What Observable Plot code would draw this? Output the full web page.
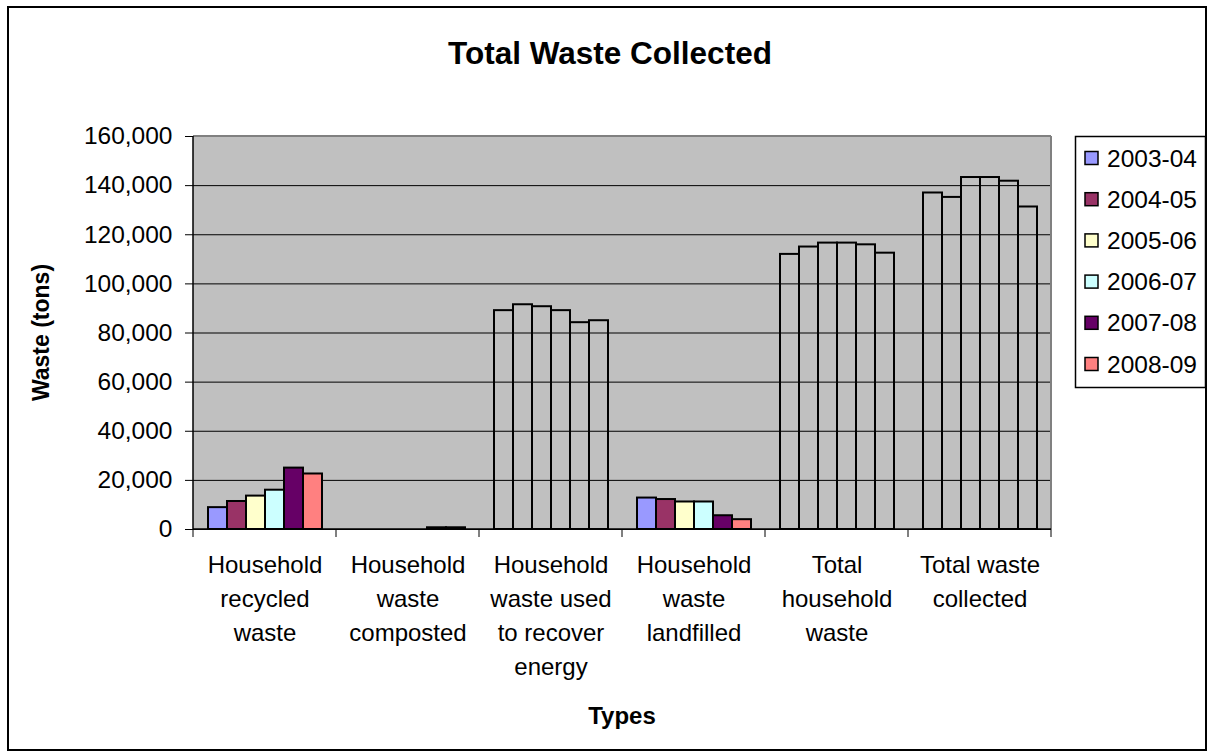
<!DOCTYPE html>
<html>
<head>
<meta charset="utf-8">
<script src="https://cdn.jsdelivr.net/npm/d3@7"></script>
<script src="https://cdn.jsdelivr.net/npm/@observablehq/plot@0.6"></script>
<style>
  html, body { margin: 0; padding: 0; background: white; }
  #chart { width: 1210px; height: 756px; }
</style>
</head>
<body>
<div id="chart"></div>
<script>
// ---- data ----
const categories = [
  "Household recycled waste",
  "Household waste composted",
  "Household waste used to recover energy",
  "Household waste landfilled",
  "Total household waste",
  "Total waste collected"
];
const categoryLabels = [
  "Household\nrecycled\nwaste",
  "Household\nwaste\ncomposted",
  "Household\nwaste used\nto recover\nenergy",
  "Household\nwaste\nlandfilled",
  "Total\nhousehold\nwaste",
  "Total waste\ncollected"
];
const years = ["2003-04", "2004-05", "2005-06", "2006-07", "2007-08", "2008-09"];
const v2003_04 = [8900, 0, 89100, 12800, 112000, 137000];
const v2004_05 = [11400, 0, 91500, 12200, 115000, 135200];
const v2005_06 = [13600, 0, 90700, 11200, 116600, 143300];
const v2006_07 = [16000, 0, 89100, 11200, 116600, 143300];
const v2007_08 = [25000, 700, 84200, 5600, 115900, 141800];
const v2008_09 = [22600, 700, 85000, 4000, 112500, 131300];
const yTicks = [0, 20000, 40000, 60000, 80000, 100000, 120000, 140000, 160000];
const outlinedCategories = ["Household waste used to recover energy", "Total household waste", "Total waste collected"];

const seriesValues = [v2003_04, v2004_05, v2005_06, v2006_07, v2007_08, v2008_09];
const rows = [];
years.forEach((yr, i) => categories.forEach((c, j) => {
  if (seriesValues[i][j] > 0) rows.push({category: c, year: yr, value: seriesValues[i][j]});
}));

const colors = ["#9999FF", "#993366", "#FFFFCC", "#CCFFFF", "#660066", "#FF8080"];
const FONT = "'Liberation Sans', Arial, sans-serif";

const chart = Plot.plot({
  width: 1210,
  height: 756,
  marginLeft: 191,
  marginRight: 158,
  marginTop: 136,
  marginBottom: 227,
  style: {background: "white", fontFamily: FONT, fontSize: "24px", color: "black"},
  fx: {domain: categories, padding: 0, label: null},
  x: {domain: years, paddingInner: 0, paddingOuter: 0.74, axis: null},
  y: {domain: [0, 160000], label: null},
  color: {domain: years, range: colors},
  marks: [
    Plot.gridY(yTicks, {stroke: "black", strokeOpacity: 1, strokeWidth: 1}),
    Plot.barY(rows.filter(d => !outlinedCategories.includes(d.category)), {
      fx: "category", x: "year", y: "value", fill: "year",
      stroke: "black", strokeWidth: 2, inset: 0
    }),
    Plot.barY(rows.filter(d => outlinedCategories.includes(d.category)), {
      fx: "category", x: "year", y: "value", fill: "none",
      stroke: "black", strokeWidth: 2, inset: 0
    }),
    Plot.axisY(yTicks, {
      tickSize: 8, tickPadding: 13, fontSize: 24.5,
      tickFormat: d => d3.format(",")(d), label: null
    }),
    Plot.axisFx({
      anchor: "bottom", tickSize: 0, tickPadding: 19, fontSize: 24,
      lineHeight: 1.42, label: null,
      tickFormat: d => categoryLabels[categories.indexOf(d)]
    })
  ]
});

document.getElementById("chart").appendChild(chart);

// ---- decorations using the plot's scales ----
const svg = d3.select(chart);
const fx = chart.scale("fx");
const y = chart.scale("y");
const x0 = fx.apply(categories[0]);
const x1 = fx.apply(categories[categories.length - 1]) + fx.bandwidth;
const yTop = y.apply(160000);
const yBot = y.apply(0);

// gray plot-area background behind all marks
svg.insert("rect", "g").attr("x", x0).attr("y", yTop).attr("width", x1 - x0).attr("height", yBot - yTop)
  .attr("fill", "#c0c0c0");

// plot area border: gray top/right, black left/bottom axis lines
svg.append("line").attr("x1", x0).attr("x2", x1).attr("y1", yTop).attr("y2", yTop)
  .attr("stroke", "#808080").attr("stroke-width", 2);
svg.append("line").attr("x1", x1).attr("x2", x1).attr("y1", yTop).attr("y2", yBot)
  .attr("stroke", "#808080").attr("stroke-width", 2);
svg.append("line").attr("x1", x0).attr("x2", x0).attr("y1", yTop).attr("y2", yBot)
  .attr("stroke", "black").attr("stroke-width", 1.5);
svg.append("line").attr("x1", x0).attr("x2", x1).attr("y1", yBot).attr("y2", yBot)
  .attr("stroke", "black").attr("stroke-width", 1.5);
// category boundary ticks
categories.forEach((c) => {
  const xb = fx.apply(c);
  svg.append("line").attr("x1", xb).attr("x2", xb).attr("y1", yBot).attr("y2", yBot + 8)
    .attr("stroke", "black").attr("stroke-width", 1);
});
svg.append("line").attr("x1", x1).attr("x2", x1).attr("y1", yBot).attr("y2", yBot + 8)
  .attr("stroke", "black").attr("stroke-width", 1);

// outer chart border
svg.append("rect").attr("x", 8).attr("y", 7).attr("width", 1198).attr("height", 743)
  .attr("fill", "none").attr("stroke", "black").attr("stroke-width", 2);

// title
svg.append("text").attr("x", 610).attr("y", 64).attr("text-anchor", "middle")
  .attr("font-family", FONT).attr("font-size", 31.5).attr("font-weight", "bold")
  .attr("fill", "black").text("Total Waste Collected");

// axis titles
svg.append("text").attr("transform", `translate(49,${(yTop + yBot) / 2}) rotate(-90)`)
  .attr("text-anchor", "middle").attr("font-family", FONT).attr("font-size", 23)
  .attr("font-weight", "bold").attr("fill", "black").text("Waste (tons)");
svg.append("text").attr("x", (x0 + x1) / 2).attr("y", 724).attr("text-anchor", "middle")
  .attr("font-family", FONT).attr("font-size", 24).attr("font-weight", "bold")
  .attr("fill", "black").text("Types");

// legend
const color = chart.scale("color");
const lg = svg.append("g").attr("text-anchor", "start");
lg.append("rect").attr("x", 1075.5).attr("y", 136.5).attr("width", 130).attr("height", 251)
  .attr("fill", "white").attr("stroke", "black").attr("stroke-width", 1.5);
years.forEach((yr, i) => {
  const cy = 158 + i * 41.2;
  lg.append("rect").attr("x", 1085).attr("y", cy - 6.5).attr("width", 13).attr("height", 13)
    .attr("fill", color.apply(yr)).attr("stroke", "black").attr("stroke-width", 1.5);
  lg.append("text").attr("x", 1107).attr("y", cy + 8.5).attr("text-anchor", "start")
    .attr("font-family", FONT).attr("font-size", 24.5).attr("fill", "black").text(yr);
});
</script>
</body>
</html>
